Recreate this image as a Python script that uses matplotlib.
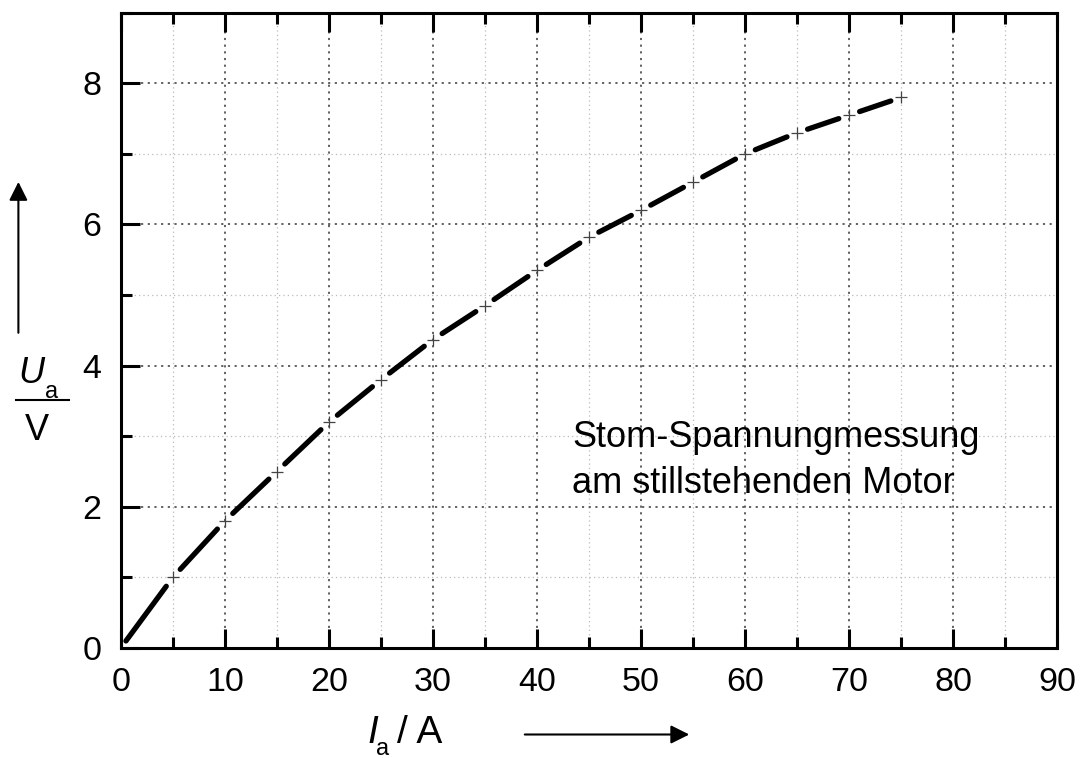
import matplotlib
matplotlib.use("Agg")
import matplotlib.pyplot as plt
import numpy as np
from matplotlib.ticker import MultipleLocator

plt.rcParams['font.family'] = ['Liberation Sans', 'DejaVu Sans']
plt.rcParams['mathtext.fontset'] = 'custom'
plt.rcParams['mathtext.rm'] = 'Liberation Sans'
plt.rcParams['mathtext.it'] = 'Liberation Sans:italic'

# measured armature current (A) and voltage (V), motor at standstill
current = [0.5, 5, 10, 15, 20, 25, 30, 35, 40, 45, 50, 55, 60, 65, 70, 75]
voltage = [0.1, 1.0, 1.8, 2.5, 3.2, 3.8, 4.37, 4.85, 5.35, 5.82, 6.2, 6.6, 7.0, 7.3, 7.55, 7.8]
x_ticks = [0, 10, 20, 30, 40, 50, 60, 70, 80, 90]
y_ticks = [0, 2, 4, 6, 8]

fig = plt.figure(figsize=(10.82, 7.58), dpi=100)
ax = fig.add_axes([0.1116, 0.1451, 0.8656, 0.8381])
ax.set_xlim(0, 90)
ax.set_ylim(0, 9)
ax.set_xticks(x_ticks)
ax.set_yticks(y_ticks)
ax.xaxis.set_minor_locator(MultipleLocator(5))
ax.yaxis.set_minor_locator(MultipleLocator(1))

# grid: dark dotted for major, light dotted for minor
ax.grid(which='major', color='#555555', linestyle=(0, (1.2, 2.5)), linewidth=1.3)
ax.grid(which='minor', color='#bbbbbb', linestyle=(0, (1, 2.5)), linewidth=0.9)
ax.set_axisbelow(True)

for s in ax.spines.values():
    s.set_linewidth(2.2)
ax.tick_params(which='major', direction='in', length=14, width=2.2, labelsize=24.5,
               top=True, right=False, pad=14)
ax.tick_params(which='minor', direction='in', length=8, width=2.2, top=True, right=False)

# one dash per measurement interval, with a gap at every measured point
fig.canvas.draw()
pts = ax.transData.transform(np.column_stack([current, voltage]))
inv = ax.transData.inverted()
gap = 11
for i in range(len(pts) - 1):
    a, b = pts[i], pts[i + 1]
    d = (b - a) / np.hypot(*(b - a))
    start = a if i == 0 else a + d * gap
    end = b - d * gap
    seg = inv.transform(np.vstack([start, end]))
    ax.plot(seg[:, 0], seg[:, 1], color='black', linewidth=3.8, solid_capstyle='round')

ax.plot(current[1:], voltage[1:], linestyle='none', marker='+', markersize=9,
        markeredgewidth=0.9, color='#444444')

ax.text(43.4, 2.85, 'Stom-Spannungmessung', fontsize=26, ha='left', va='baseline')
ax.text(43.4, 2.19, 'am stillstehenden Motor', fontsize=26, ha='left', va='baseline')

# y axis label as fraction U_a / V with arrow
fig.text(0.0166, 0.4947, r'$U$', fontsize=26, ha='left', va='baseline')
fig.text(0.0416, 0.475, 'a', fontsize=17, ha='left', va='baseline')
fig.add_artist(plt.Line2D([0.0148, 0.0638], [0.4723, 0.4723], color='black', linewidth=1.5))
fig.text(0.0231, 0.4195, 'V', fontsize=26, ha='left', va='baseline')
ax.annotate('', xy=(0.017, 0.76), xytext=(0.017, 0.561), xycoords='figure fraction',
            textcoords='figure fraction',
            arrowprops=dict(arrowstyle='-|>', color='black', linewidth=1.5,
                            mutation_scale=28, shrinkA=0, shrinkB=0))

# x axis label I_a / A with arrow
fig.text(0.339, 0.0198, r'$I$', fontsize=28, ha='left', va='baseline')
fig.text(0.3475, 0.004, 'a', fontsize=17, ha='left', va='baseline')
fig.text(0.367, 0.0198, '/ A', fontsize=28, ha='left', va='baseline')
ax.annotate('', xy=(0.637, 0.031), xytext=(0.485, 0.031), xycoords='figure fraction',
            textcoords='figure fraction',
            arrowprops=dict(arrowstyle='-|>', color='black', linewidth=1.5,
                            mutation_scale=28, shrinkA=0, shrinkB=0))

fig.savefig('out.png', dpi=100)
